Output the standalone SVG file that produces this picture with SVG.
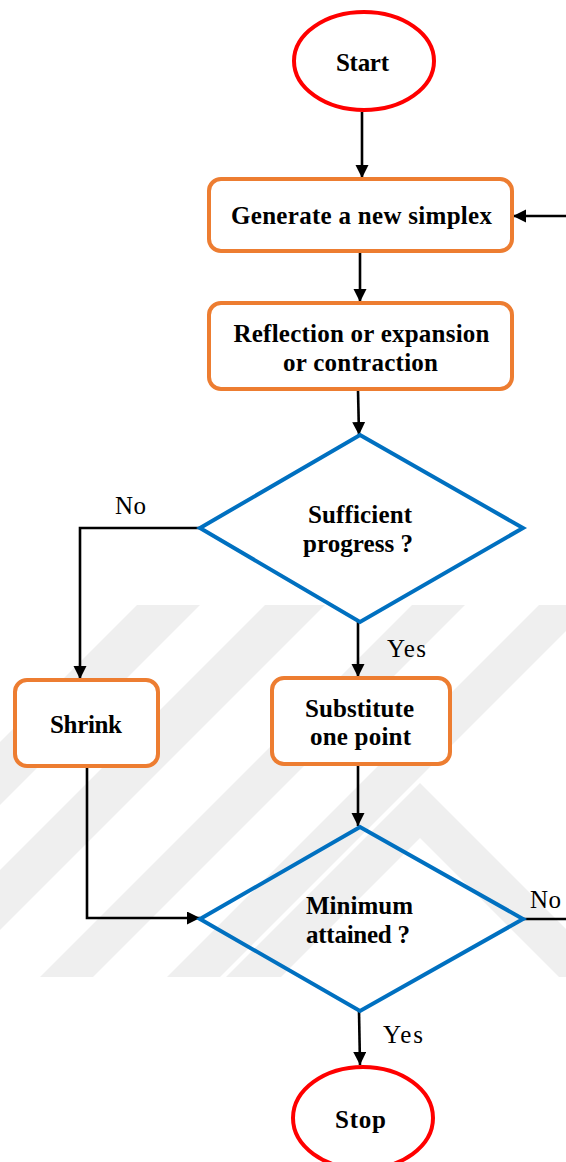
<svg xmlns="http://www.w3.org/2000/svg" width="566" height="1162" viewBox="0 0 566 1162">
<style>
.term{fill:#fff;stroke:#ff0000;stroke-width:4}
.proc{fill:#fff;stroke:#ed7d31;stroke-width:4}
.dec{fill:none;stroke:#0070c0;stroke-width:4;stroke-linejoin:miter}
.conn{fill:none;stroke:#000;stroke-width:2.6}
.b{font-family:"Times New Roman","Liberation Serif",Times,serif;font-weight:bold;font-size:25px;fill:#000;text-anchor:middle}
.r{font-family:"Times New Roman","Liberation Serif",Times,serif;font-size:25px;fill:#000;text-anchor:middle}
.wm{fill:#efefef}
</style>
<defs>
<marker id="ah" markerUnits="userSpaceOnUse" markerWidth="14" markerHeight="14" refX="13" refY="6.5" orient="auto">
<path d="M0,0 L13,6.5 L0,13 z" fill="#000"/>
</marker>
<clipPath id="wmclip"><rect x="0" y="605" width="566" height="372"/></clipPath>
</defs>
<rect width="566" height="1162" fill="#fff"/>
<g id="watermark" clip-path="url(#wmclip)">
<polygon class="wm" points="137,605 200,605 -172,977 -235,977"/>
<polygon class="wm" points="265,605 325,605 -47,977 -107,977"/>
<polygon class="wm" points="412,605 465,605 93,977 40,977"/>
<polygon class="wm" points="539,605 592,605 220,977 167,977"/>
<polygon class="wm" points="226,977 420,783 614,977 559,977 420,838 281,977"/>
</g>
<g id="connectors">
<line class="conn" x1="362" y1="112" x2="362" y2="178" marker-end="url(#ah)"/>
<line class="conn" x1="566" y1="216" x2="513" y2="216" marker-end="url(#ah)"/>
<line class="conn" x1="360" y1="252" x2="360" y2="302" marker-end="url(#ah)"/>
<line class="conn" x1="358" y1="390" x2="359" y2="435" marker-end="url(#ah)"/>
<polyline class="conn" points="200,528 80,528 80,679" marker-end="url(#ah)"/>
<line class="conn" x1="358" y1="622" x2="358" y2="677" marker-end="url(#ah)"/>
<line class="conn" x1="358" y1="764" x2="358" y2="826" marker-end="url(#ah)"/>
<polyline class="conn" points="87,767 87,918 200,918" marker-end="url(#ah)"/>
<line class="conn" x1="523" y1="919" x2="566" y2="919"/>
<line class="conn" x1="359" y1="1011" x2="360" y2="1065" marker-end="url(#ah)"/>
<text class="r" x="130.5" y="514" textLength="31">No</text>
<text class="r" x="406.5" y="657" textLength="39">Yes</text>
<text class="r" x="545.5" y="908" textLength="31">No</text>
<text class="r" x="403" y="1043" textLength="40">Yes</text>
</g>
<g id="start">
<ellipse class="term" cx="364" cy="61" rx="70" ry="49"/>
<text class="b" x="362.5" y="71" textLength="53">Start</text>
</g>
<g id="generate">
<rect class="proc" x="209" y="179" width="303" height="72" rx="12"/>
<text class="b" x="361.5" y="224" textLength="261">Generate a new simplex</text>
</g>
<g id="reflection">
<rect class="proc" x="209" y="303" width="303" height="86" rx="12"/>
<text class="b" x="361.5" y="342" textLength="256">Reflection or expansion</text>
<text class="b" x="360.5" y="371" textLength="155">or contraction</text>
</g>
<g id="sufficient">
<polygon class="dec" points="360,435 523,528 360,622 200,528"/>
<text class="b" x="360" y="523" textLength="104">Sufficient</text>
<text class="b" x="358" y="552" textLength="110">progress ?</text>
</g>
<g id="shrink">
<rect class="proc" x="15" y="680" width="143" height="86" rx="12"/>
<text class="b" x="86" y="733" textLength="72">Shrink</text>
</g>
<g id="substitute">
<rect class="proc" x="272" y="678" width="178" height="86" rx="12"/>
<text class="b" x="359.5" y="717" textLength="109">Substitute</text>
<text class="b" x="360.5" y="745" textLength="101">one point</text>
</g>
<g id="minimum">
<polygon class="dec" points="360,827 523,919 360,1011 200,919"/>
<text class="b" x="359.5" y="914" textLength="107">Minimum</text>
<text class="b" x="358" y="943" textLength="104">attained ?</text>
</g>
<g id="stop">
<ellipse class="term" cx="363" cy="1118" rx="70" ry="51"/>
<text class="b" x="360.5" y="1128" textLength="51">Stop</text>
</g>
</svg>
